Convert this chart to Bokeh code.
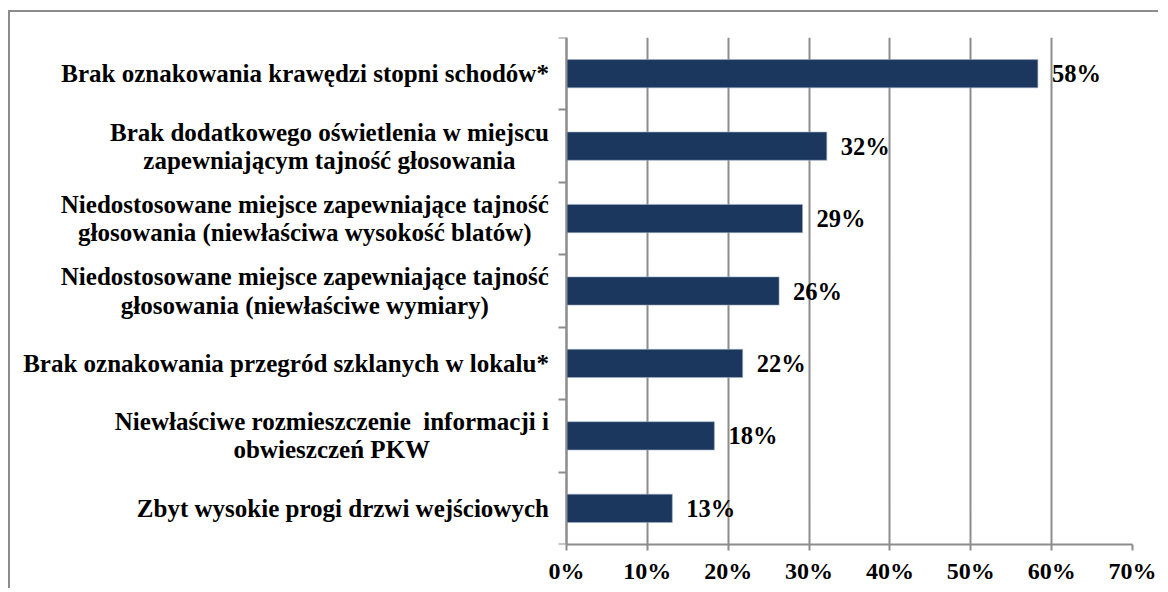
from bokeh.plotting import figure
from bokeh.models import Range1d, FixedTicker, Label, ColumnDataSource
from bokeh.core.properties import value
from bokeh.embed import file_html
from bokeh.resources import INLINE

categories = [
    "Brak oznakowania krawędzi stopni schodów*",
    "Brak dodatkowego oświetlenia w miejscu\nzapewniającym tajność głosowania",
    "Niedostosowane miejsce zapewniające tajność\ngłosowania (niewłaściwa wysokość blatów)",
    "Niedostosowane miejsce zapewniające tajność\ngłosowania (niewłaściwe wymiary)",
    "Brak oznakowania przegród szklanych w lokalu*",
    "Niewłaściwe rozmieszczenie\u00a0 informacji i\nobwieszczeń PKW",
    "Zbyt wysokie progi drzwi wejściowych",
]
values = [58.3, 32.2, 29.2, 26.3, 21.8, 18.3, 13.1]
value_labels = ["58%", "32%", "29%", "26%", "22%", "18%", "13%"]
x_ticks = [0, 10, 20, 30, 40, 50, 60, 70]
x_tick_labels = ["0%", "10%", "20%", "30%", "40%", "50%", "60%", "70%"]

FONT = "Liberation Serif"
GRAY = "#8c8c8c"
BAR = "#1b375d"

n = len(categories)
ys = [n - 0.5 - i for i in range(n)]

src = ColumnDataSource(dict(y=ys, v=values, lbl=value_labels))

p = figure(
    width=1150, height=578,
    x_range=Range1d(-67.5, 70.0), y_range=Range1d(0, n),
    output_backend="svg", toolbar_location=None,
    min_border_left=10, min_border_right=28,
    min_border_top=25, min_border_bottom=46,
)
p.styles = {
    "border-top": f"2px solid {GRAY}",
    "border-left": f"2px solid {GRAY}",
    "margin-left": "8px",
    "margin-top": "10px",
}
p.outline_line_color = None
p.background_fill_color = "white"
p.border_fill_color = "white"

p.hbar(y="y", right="v", left=0, height=0.39, source=src,
       fill_color=BAR, line_color="#9fb0c8", line_width=0.6)

p.text(x="v", y="y", text="lbl", source=src, x_offset=14,
       text_baseline="middle", text_align="left",
       text_font=value(FONT), text_font_style="bold",
       text_font_size="24.5px", text_color="black")

for yc, cat in zip(ys, categories):
    p.add_layout(Label(
        x=0, y=yc, x_offset=-17.5, text=cat,
        anchor="center_right", text_align="center", text_baseline="middle",
        text_font=FONT, text_font_style="bold", text_font_size="25px",
        text_line_height=1.04, text_color="black",
    ))

# x axis
xa = p.xaxis[0]
xa.bounds = (0, 70)
xa.ticker = FixedTicker(ticks=x_ticks, minor_ticks=[])
xa.major_label_overrides = {t: l for t, l in zip(x_ticks, x_tick_labels)}
xa.major_label_text_font = FONT
xa.major_label_text_font_style = "bold"
xa.major_label_text_font_size = "24px"
xa.major_label_text_color = "black"
xa.major_label_standoff = 7
xa.axis_line_color = GRAY
xa.axis_line_width = 2
xa.major_tick_line_color = GRAY
xa.major_tick_line_width = 2
xa.major_tick_out = 6
xa.major_tick_in = 0
xa.minor_tick_line_color = None

# y axis at x = 0: ticks at category boundaries, no labels
ya = p.yaxis[0]
ya.fixed_location = 0
ya.ticker = FixedTicker(ticks=list(range(n + 1)), minor_ticks=[])
ya.major_label_overrides = {t: "" for t in range(n + 1)}
ya.major_label_text_font_size = "0px"
ya.major_label_standoff = 0
ya.axis_line_color = GRAY
ya.axis_line_width = 2
ya.major_tick_line_color = GRAY
ya.major_tick_line_width = 2
ya.major_tick_out = 8
ya.major_tick_in = 0
ya.minor_tick_line_color = None

p.xgrid.ticker = FixedTicker(ticks=x_ticks)
p.xgrid.bounds = (0, 70)
p.xgrid.grid_line_color = GRAY
p.xgrid.grid_line_width = 2
p.ygrid.grid_line_color = None

open("out.html", "w").write(file_html(p, INLINE))
